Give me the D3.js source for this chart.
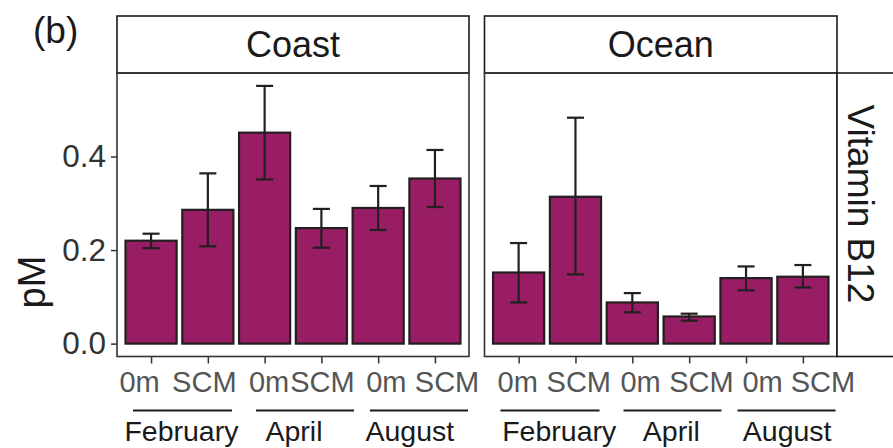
<!DOCTYPE html>
<html lang="en">
<head>
<meta charset="UTF-8">
<title>Vitamin B12</title>
<style>
  body { margin: 0; padding: 0; background: #fff; }
  svg { display: block; font-family: "Liberation Sans", Arial, sans-serif; }
</style>
</head>
<body>
<div id="chart"></div>
<script src="https://d3js.org/d3.v7.min.js"></script>
<script>
// data (pM)
const sites = ["Coast", "Ocean"];
const months = ["February", "April", "August"];
const depths = ["0m", "SCM"];
const coastMean = [0.220, 0.286, 0.451, 0.247, 0.290, 0.353];
const coastLow  = [0.204, 0.208, 0.351, 0.205, 0.243, 0.292];
const coastHigh = [0.235, 0.364, 0.551, 0.288, 0.337, 0.414];
const oceanMean = [0.152, 0.314, 0.088, 0.058, 0.140, 0.143];
const oceanLow  = [0.088, 0.148, 0.067, 0.049, 0.114, 0.120];
const oceanHigh = [0.215, 0.483, 0.108, 0.064, 0.165, 0.168];
const yTicks = [0.0, 0.2, 0.4];

const width = 893, height = 448;
const font = '"Liberation Sans", Arial, sans-serif';
const panelTop = 73, panelBottom = 356.5, stripTop = 16;
const panels = [
  { site: "Coast", x0: 117, x1: 469, mean: coastMean, low: coastLow, high: coastHigh,
    labelShift: [-12, -4, 4, 0.5, 7.7, 11.6], monthShift: [2, 1, 3.3] },
  { site: "Ocean", x0: 484.5, x1: 837, mean: oceanMean, low: oceanLow, high: oceanHigh,
    labelShift: [-1.4, 2.8, 7.7, 11.7, 16.1, 19.6], monthShift: [12.2, 10.6, 12.7] }
];
// month underline spans, relative to panel left edge
const underline = [[16, 115], [139, 237], [253, 351]];

const fill = "#981d64", ink = "#231f20";

const svg = d3.select("#chart").append("svg")
  .attr("width", width).attr("height", height);

const allHigh = coastHigh.concat(oceanHigh);
const yMax = d3.max(allHigh);
const pad = yMax * 0.05;
const y = d3.scaleLinear().domain([-pad, yMax + pad]).range([panelBottom, panelTop]);

// y axis on left panel
const yAxis = svg.append("g")
  .attr("transform", "translate(" + panels[0].x0 + ",0)")
  .call(d3.axisLeft(y).tickValues(yTicks).tickFormat(d3.format(".1f")).tickSize(6).tickPadding(5));
yAxis.attr("font-family", font);
yAxis.select(".domain").remove();
yAxis.selectAll(".tick line").attr("stroke", "#333").attr("stroke-width", 1.5);
yAxis.selectAll(".tick text").attr("fill", "#333").style("font-size", "31.5px");

svg.append("text")
  .attr("transform", "translate(45,282) rotate(-90)")
  .attr("text-anchor", "middle")
  .attr("fill", "#1a1a1a")
  .style("font-size", "38px")
  .text("pM");

svg.append("text")
  .attr("x", 33).attr("y", 43)
  .attr("fill", "#1a1a1a")
  .style("font-size", "37px")
  .text("(b)");

const cats = [];
months.forEach(m => depths.forEach(d => cats.push(m + "|" + d)));

panels.forEach(p => {
  const x = d3.scalePoint().domain(cats).range([p.x0, p.x1]).padding(0.6);
  const step = x.step();
  const bw = step * 0.9, cap = step * 0.3;
  const g = svg.append("g");

  // strip
  g.append("rect")
    .attr("x", p.x0).attr("y", stripTop)
    .attr("width", p.x1 - p.x0).attr("height", panelTop - stripTop)
    .attr("fill", "#fff").attr("stroke", "#1a1a1a").attr("stroke-width", 1.6);
  g.append("text")
    .attr("x", (p.x0 + p.x1) / 2).attr("y", (stripTop + panelTop) / 2)
    .attr("dy", "0.36em")
    .attr("text-anchor", "middle")
    .attr("fill", "#1a1a1a")
    .style("font-size", "36px")
    .text(p.site);

  // bars
  g.selectAll(".bar").data(p.mean).enter().append("rect")
    .attr("class", "bar")
    .attr("x", (d, i) => x(cats[i]) - bw / 2)
    .attr("y", d => y(d))
    .attr("width", bw)
    .attr("height", d => y(0) - y(d))
    .attr("fill", fill).attr("stroke", ink).attr("stroke-width", 2.2);

  // error bars
  const eb = g.selectAll(".err").data(p.mean).enter().append("g").attr("class", "err")
    .attr("stroke", ink).attr("stroke-width", 2.2);
  eb.append("line")
    .attr("x1", (d, i) => x(cats[i])).attr("x2", (d, i) => x(cats[i]))
    .attr("y1", (d, i) => y(p.low[i])).attr("y2", (d, i) => y(p.high[i]));
  eb.append("line")
    .attr("x1", (d, i) => x(cats[i]) - cap / 2).attr("x2", (d, i) => x(cats[i]) + cap / 2)
    .attr("y1", (d, i) => y(p.high[i])).attr("y2", (d, i) => y(p.high[i]));
  eb.append("line")
    .attr("x1", (d, i) => x(cats[i]) - cap / 2).attr("x2", (d, i) => x(cats[i]) + cap / 2)
    .attr("y1", (d, i) => y(p.low[i])).attr("y2", (d, i) => y(p.low[i]));

  // panel border
  g.append("rect")
    .attr("x", p.x0).attr("y", panelTop)
    .attr("width", p.x1 - p.x0).attr("height", panelBottom - panelTop)
    .attr("fill", "none").attr("stroke", "#333").attr("stroke-width", 1.6);

  // x axis
  const xAxis = g.append("g")
    .attr("transform", "translate(0," + panelBottom + ")")
    .call(d3.axisBottom(x).tickSize(7).tickPadding(8).tickFormat(d => d.split("|")[1]));
  xAxis.attr("font-family", font);
  xAxis.select(".domain").remove();
  xAxis.selectAll(".tick line").attr("stroke", "#333").attr("stroke-width", 1.5);
  xAxis.selectAll(".tick text")
    .attr("fill", "#555")
    .style("font-size", "29px")
    .attr("dx", (d, i) => p.labelShift[i]);

  // month groups
  months.forEach((m, j) => {
    const mid = (x(m + "|0m") + x(m + "|SCM")) / 2;
    g.append("line")
      .attr("x1", p.x0 + underline[j][0]).attr("x2", p.x0 + underline[j][1])
      .attr("y1", 410.5).attr("y2", 410.5)
      .attr("stroke", "#1a1a1a").attr("stroke-width", 2);
    g.append("text")
      .attr("x", mid + p.monthShift[j]).attr("y", 441)
      .attr("text-anchor", "middle")
      .attr("fill", "#1a1a1a")
      .style("font-size", "28.5px")
      .text(m);
  });
});

// right strip
svg.append("rect")
  .attr("x", panels[1].x1).attr("y", panelTop)
  .attr("width", 70).attr("height", panelBottom - panelTop)
  .attr("fill", "#fff").attr("stroke", "#1a1a1a").attr("stroke-width", 1.6);
svg.append("text")
  .attr("transform", "translate(861,204) rotate(90)")
  .attr("text-anchor", "middle")
  .attr("dy", "0.36em")
  .attr("fill", "#1a1a1a")
  .style("font-size", "37px")
  .text("Vitamin B12");
</script>
</body>
</html>
